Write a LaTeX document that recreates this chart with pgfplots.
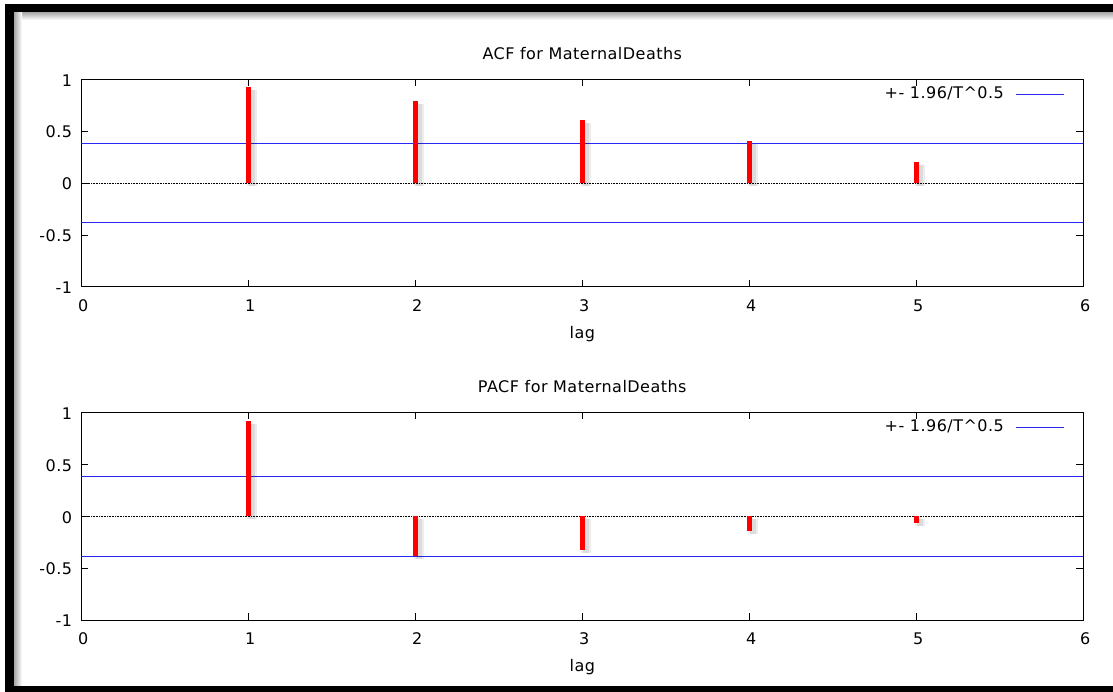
\documentclass[border=0pt]{standalone}
\usepackage{fontspec}
\setmainfont{DejaVu Sans}[LetterSpace=3]
\usepackage{pgfplots}
\usepackage{pgfplotstable}
\pgfplotsset{compat=1.18}

\definecolor{gpblue}{RGB}{40,40,245}
\definecolor{gpred}{RGB}{255,0,0}

% lag, autocorrelation, partial autocorrelation
\pgfplotstableread{
lag acf pacf
1 0.921 0.919
2 0.786 -0.380
3 0.605 -0.329
4 0.402 -0.138
5 0.203 -0.064
}\corrtab

% limits +- 1.96/sqrt(T)
\pgfplotstableread{
x up lo zero
0 0.3844 -0.3844 0
6 0.3844 -0.3844 0
}\bandtab

\pgfplotsset{
  corr/.style={
    scale only axis, width=1002pt, height=207.5pt,
    anchor=south west,
    xmin=0, xmax=6, ymin=-1, ymax=1,
    xtick={0,...,6}, ytick={-1,-0.5,0,0.5,1},
    xticklabels={0,1,2,3,4,5,6},
    yticklabels={-1,-0.5,0,0.5,1},
    tick align=inside, major tick length=7pt,
    every tick/.style={black, line width=0.6pt},
    axis line style={line width=0.9pt},
    font=\fontsize{16}{18}\selectfont,
    xticklabel style={anchor=base, yshift=-25pt, xshift=2pt},
    yticklabel style={anchor=east, inner sep=0pt, xshift=-9pt, yshift=-1pt},
    title style={at={(0.5,1)}, anchor=base, yshift=14pt},
    xlabel={lag},
    xlabel style={at={(axis description cs:0.5,0)}, anchor=base, yshift=-52pt},
  },
  band/.style={draw=gpblue, line width=0.8pt, forget plot},
  zero/.style={draw=black, densely dotted, line width=0.6pt, forget plot},
  stick/.style={draw=gpred, line width=5pt, ycomb, no markers, forget plot},
  stickshadow/.style={draw=black, draw opacity=0.07, line width=#1, ycomb, no markers,
    forget plot, xshift=3.5pt, yshift=-3pt},
}

\begin{document}
\begin{tikzpicture}[x=1pt,y=1pt]
\useasboundingbox (0,0) rectangle (1113,692);
\fill[white] (0,0) rectangle (1113,692);

\begin{axis}[corr, at={(81.3pt,405.3pt)}, title={ACF for MaternalDeaths}]
\addplot[zero] table[x=x, y=zero] {\bandtab};
\addplot[band] table[x=x, y=up] {\bandtab};
\addplot[band] table[x=x, y=lo] {\bandtab};
\addplot[stickshadow=10pt] table[x=lag, y=acf] {\corrtab};
\addplot[stickshadow=6pt] table[x=lag, y=acf] {\corrtab};
\addplot[stick] table[x=lag, y=acf] {\corrtab};
\node[anchor=base east, inner sep=0pt] at (rel axis cs:0.921,0.908) {+- 1.96/T\textasciicircum 0.5};
\draw[gpblue, line width=0.8pt] (rel axis cs:0.933,0.928) -- (rel axis cs:0.981,0.928);
\end{axis}

\begin{axis}[corr, at={(81.3pt,72pt)}, title={PACF for MaternalDeaths}]
\addplot[zero] table[x=x, y=zero] {\bandtab};
\addplot[band] table[x=x, y=up] {\bandtab};
\addplot[band] table[x=x, y=lo] {\bandtab};
\addplot[stickshadow=10pt] table[x=lag, y=pacf] {\corrtab};
\addplot[stickshadow=6pt] table[x=lag, y=pacf] {\corrtab};
\addplot[stick] table[x=lag, y=pacf] {\corrtab};
\node[anchor=base east, inner sep=0pt] at (rel axis cs:0.921,0.908) {+- 1.96/T\textasciicircum 0.5};
\draw[gpblue, line width=0.8pt] (rel axis cs:0.933,0.928) -- (rel axis cs:0.981,0.928);
\end{axis}

% screenshot frame
\shade[top color=black!35, bottom color=white] (14,672) rectangle (1113,680);
\shade[left color=black!35, right color=white] (14,6) rectangle (22,680);
\fill[black] (5,680) rectangle (1113,688);
\fill[black] (5,0) rectangle (14,688);
\fill[black] (5,0) rectangle (1113,6);
\end{tikzpicture}
\end{document}
